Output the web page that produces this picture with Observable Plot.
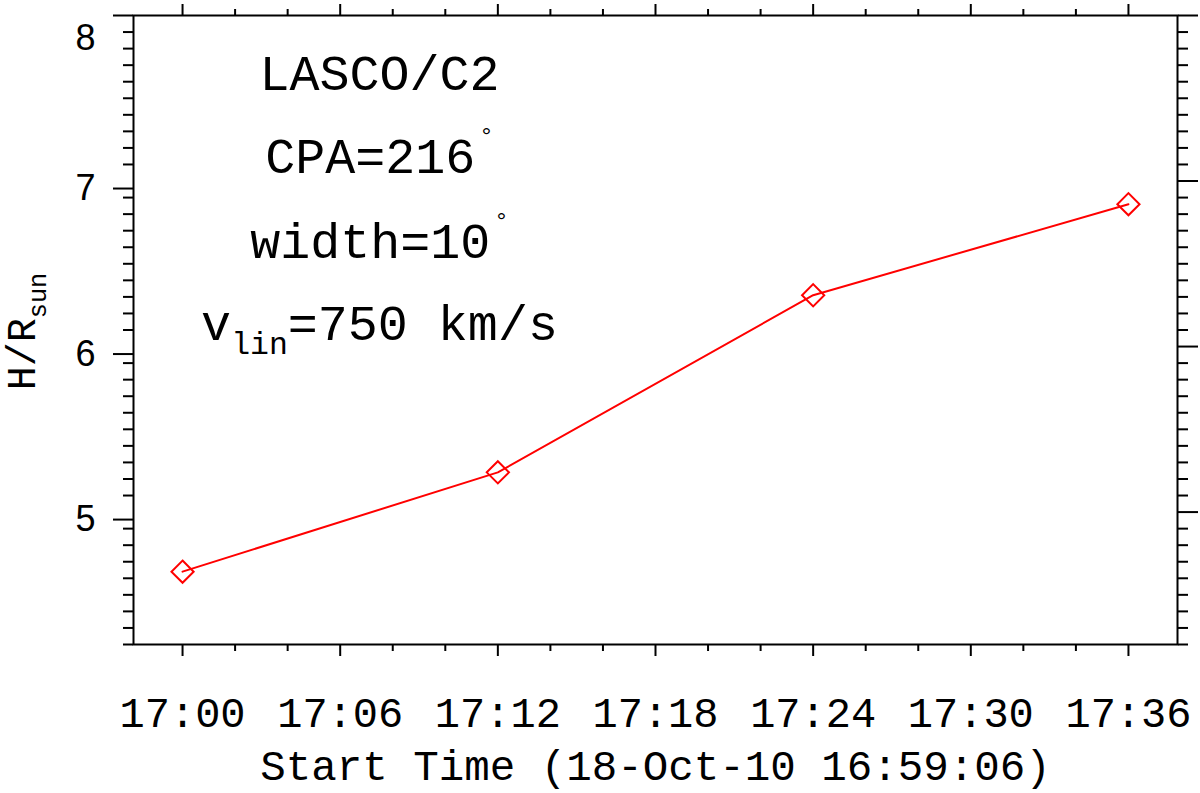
<!DOCTYPE html>
<html>
<head>
<meta charset="utf-8">
<script src="https://cdn.jsdelivr.net/npm/d3@7"></script>
<script src="https://cdn.jsdelivr.net/npm/@observablehq/plot@0.6"></script>
<style>
  html, body { margin: 0; padding: 0; background: #fff; }
  #chart svg { display: block; }
</style>
</head>
<body>
<div id="chart"></div>
<script>
// ---- data ----
const obsDate = "2010-10-18";
const obsTimes = ["17:00:00", "17:12:00", "17:24:00", "17:36:00"];
const heights = [4.64, 5.24, 6.31, 6.86];

const xTickLabels = ["17:00", "17:06", "17:12", "17:18", "17:24", "17:30", "17:36"];
const xDomainTimes = ["16:58:08", "17:37:52"];
const yTickLabels = [5, 6, 7];
const yTopLabel = [8];
const yDomain = [4.2, 8.0];

const annotationLines = ["LASCO/C2", "CPA=216^{°}", "width=10^{°}", "v_{lin}=750 km/s"];
const xTitle = "Start Time (18-Oct-10 16:59:06)";
const yTitle = "H/R_{sun}";

// ---- build ----
const t = s => new Date(`${obsDate}T${s}Z`);
const data = obsTimes.map((s, i) => ({time: t(s), h: heights[i]}));
const xDomain = xDomainTimes.map(t);
const xMajor = xTickLabels.map(s => t(s + ":00"));
const majorSet = new Set(xMajor.map(d => +d));
const xMinor = d3.utcMinute.every(2).range(xDomain[0], xDomain[1]).filter(d => !majorSet.has(+d));
const yMajor = [5, 6, 7, 8];
const yMinor = d3.range(42, 81).filter(v => v % 10 !== 0).map(v => v / 10);

const mono = "'Liberation Mono', 'Courier New', monospace";
const sans = "'Liberation Sans', Arial, sans-serif";
const fmt = d3.utcFormat("%H:%M");
const blank = () => "";

const annotationBaselines = [74, 157, 242, 324];

const chart = Plot.plot({
  width: 1200,
  height: 793,
  marginLeft: 133,
  marginRight: 23,
  marginTop: 15,
  marginBottom: 149,
  style: {background: "#fff", color: "#000", fontFamily: mono},
  x: {type: "utc", domain: xDomain},
  y: {domain: yDomain},
  marks: [
    // bottom axis
    Plot.axisX({anchor: "bottom", ticks: xMajor, tickSize: 12, tickPadding: 41, tickFormat: fmt,
      fontSize: 42, fontFamily: mono, strokeWidth: 2, label: null}),
    Plot.axisX({anchor: "bottom", ticks: xMinor, tickSize: 7, tickFormat: blank, strokeWidth: 2, label: null}),
    // top axis
    Plot.axisX({anchor: "top", ticks: xMajor, tickSize: 12, tickFormat: blank, strokeWidth: 2, label: null}),
    Plot.axisX({anchor: "top", ticks: xMinor, tickSize: 7, tickFormat: blank, strokeWidth: 2, label: null}),
    // left axis
    Plot.axisY({anchor: "left", ticks: yTickLabels, tickSize: 20, tickPadding: 18, tickFormat: d => String(d),
      fontSize: 36, fontFamily: sans, dy: 7.5, strokeWidth: 2, label: null}),
    Plot.axisY({anchor: "left", ticks: yTopLabel, tickSize: 20, tickFormat: blank, strokeWidth: 2, label: null}),
    Plot.axisY({anchor: "left", ticks: yMinor, tickSize: 10, tickFormat: blank, strokeWidth: 2, label: null}),
    Plot.text(yTopLabel, {y: d => d, frameAnchor: "left", text: d => String(d), dx: -38, dy: 23,
      textAnchor: "end", lineAnchor: "middle", fontSize: 36, fontFamily: sans, fill: "#000"}),
    // right axis
    Plot.axisY({anchor: "right", ticks: yMajor, tickSize: 20, tickFormat: blank, strokeWidth: 2, label: null}),
    Plot.axisY({anchor: "right", ticks: yMinor, tickSize: 10, tickFormat: blank, strokeWidth: 2, label: null}),
    // frame
    Plot.frame({stroke: "#000", strokeWidth: 2}),
    // data
    Plot.line(data, {x: "time", y: "h", stroke: "#ff0000", strokeWidth: 2}),
    Plot.dot(data, {x: "time", y: "h", symbol: "diamond2", r: 10, stroke: "#ff0000", strokeWidth: 2, fill: "none"}),
    // annotations
    ...annotationLines.map((s, i) => Plot.text([s], {
      frameAnchor: "top-left", dx: 246, dy: annotationBaselines[i], text: d => d,
      textAnchor: "middle", lineAnchor: "bottom", fontSize: 50, fontFamily: mono, fill: "#000"
    })),
    // axis titles
    Plot.text([xTitle], {frameAnchor: "bottom", dy: 135, text: d => d, lineAnchor: "bottom",
      fontSize: 42.5, fontFamily: mono, fill: "#000"}),
    Plot.text([yTitle], {frameAnchor: "left", dx: -99, dy: 1.5, rotate: -90, text: d => d,
      textAnchor: "middle", lineAnchor: "bottom", fontSize: 40, fontFamily: mono, fill: "#000"})
  ]
});

document.getElementById("chart").appendChild(chart);

// rich text: _{sub} and ^{sup}
const re = /([_^])\{([^}]*)\}/;
d3.select(chart).selectAll("text").each(function() {
  const s = this.textContent;
  if (!/[_^]\{/.test(s)) return;
  const fs = parseFloat(getComputedStyle(this).fontSize);
  const parts = s.split(re);
  this.textContent = "";
  let shift = 0;
  let marker = null;
  const ns = "http://www.w3.org/2000/svg";
  parts.forEach((p, i) => {
    if (i % 3 === 0) {
      if (!p) return;
      const ts = document.createElementNS(ns, "tspan");
      if (shift) ts.setAttribute("dy", -shift);
      shift = 0;
      ts.textContent = p;
      this.appendChild(ts);
    } else if (i % 3 === 1) {
      marker = p;
    } else {
      const ts = document.createElementNS(ns, "tspan");
      if (marker === "_") {
        const dy = 0.28 * fs;
        ts.setAttribute("dy", dy - shift);
        ts.setAttribute("font-size", 0.63 * fs);
        shift = dy;
      } else {
        const dy = -0.58 * fs;
        ts.setAttribute("dy", dy - shift);
        ts.setAttribute("dx", 0.08 * fs);
        ts.setAttribute("font-size", 0.48 * fs);
        shift = dy;
      }
      ts.textContent = p;
      this.appendChild(ts);
    }
  });
});
</script>
</body>
</html>
